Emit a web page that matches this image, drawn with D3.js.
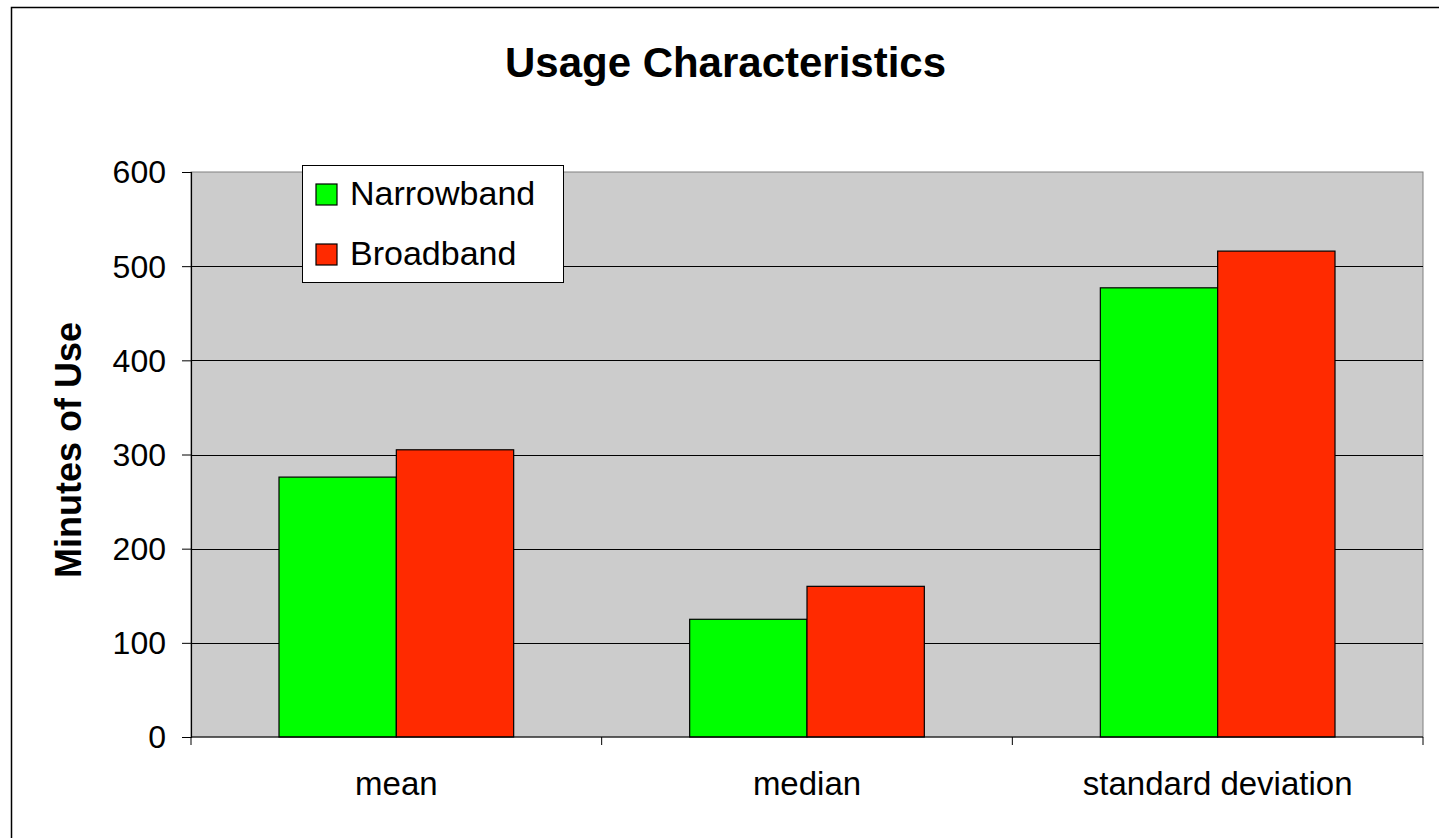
<!DOCTYPE html>
<html>
<head>
<meta charset="utf-8">
<script src="https://cdn.jsdelivr.net/npm/d3@7"></script>
<style>
  body { margin: 0; background: #fff; }
  svg { display: block; font-family: "Liberation Sans", Arial, sans-serif; }
</style>
</head>
<body>
<div id="chart"></div>
<script>
// chart data
var categories = ["mean", "median", "standard deviation"];
var seriesNames = ["Narrowband", "Broadband"];
var narrowband = [276, 125, 477];
var broadband = [305, 160, 516];
var yTicks = [0, 100, 200, 300, 400, 500, 600];
var colors = ["#00ff00", "#ff2a00"];

var W = 1439, H = 838;
var margin = { top: 172, left: 191, right: 16, bottom: 100 };
var pw = 1423 - margin.left, ph = 737 - margin.top;

var svg = d3.select("#chart").append("svg")
  .attr("width", W).attr("height", H);

// outer frame
svg.append("rect")
  .attr("x", 11.5).attr("y", 7.5)
  .attr("width", W + 10).attr("height", H + 10)
  .attr("fill", "#fff").attr("stroke", "#000").attr("stroke-width", 1.5);

svg.append("text")
  .attr("x", 725.5).attr("y", 77)
  .attr("text-anchor", "middle")
  .attr("textLength", 441).attr("lengthAdjust", "spacingAndGlyphs")
  .style("font-size", "43px").style("font-weight", "bold")
  .text("Usage Characteristics");

var g = svg.append("g")
  .attr("transform", "translate(" + margin.left + "," + margin.top + ")");

var x0 = d3.scaleBand().domain(categories).range([0, pw]).paddingInner(0).paddingOuter(0);
var y = d3.scaleLinear().domain([0, 600]).range([ph, 0]);

// Excel gap width 150% -> bar = band / 3.5
var barW = x0.bandwidth() / 3.5;

g.append("rect")
  .attr("width", pw).attr("height", ph)
  .attr("fill", "#cccccc").attr("stroke", "#808080").attr("stroke-width", 1);

g.selectAll(".grid")
  .data(yTicks.filter(function (d) { return d > 0 && d < 600; }))
  .enter().append("line")
  .attr("class", "grid")
  .attr("x1", 0).attr("x2", pw)
  .attr("y1", function (d) { return Math.round(y(d)) + 0.5; })
  .attr("y2", function (d) { return Math.round(y(d)) + 0.5; })
  .attr("stroke", "#000").attr("stroke-width", 1);

var groups = g.selectAll(".cat")
  .data(categories)
  .enter().append("g")
  .attr("class", "cat")
  .attr("transform", function (d) { return "translate(" + (x0(d) + barW * 0.75) + ",0)"; });

groups.selectAll("rect")
  .data(function (d, i) { return [narrowband[i], broadband[i]]; })
  .enter().append("rect")
  .attr("x", function (d, j) { return j * barW; })
  .attr("y", function (d) { return y(d); })
  .attr("width", barW)
  .attr("height", function (d) { return ph - y(d); })
  .attr("fill", function (d, j) { return colors[j]; })
  .attr("stroke", "#000").attr("stroke-width", 1.2);

// y axis
var yAxis = d3.axisLeft(y).tickValues(yTicks).tickSize(9).tickPadding(16);
var ya = g.append("g").call(yAxis);
ya.select(".domain").attr("stroke", "#000").attr("stroke-width", 1.2);
ya.selectAll(".tick line").attr("stroke", "#000");
ya.selectAll("text").style("font-size", "32px").attr("fill", "#000")
  .attr("font-family", null).attr("dy", "0.34em");

// x axis: ticks at category boundaries
var xa = g.append("g").attr("transform", "translate(0," + ph + ")");
xa.append("line").attr("x1", 0).attr("x2", pw).attr("stroke", "#000").attr("stroke-width", 1.2);
xa.selectAll(".xt")
  .data(categories.concat(["end"]))
  .enter().append("line")
  .attr("class", "xt")
  .attr("x1", function (d, i) { return i * x0.step(); })
  .attr("x2", function (d, i) { return i * x0.step(); })
  .attr("y1", 0).attr("y2", 8)
  .attr("stroke", "#000");
xa.selectAll(".xl")
  .data(categories)
  .enter().append("text")
  .attr("class", "xl")
  .attr("x", function (d) { return x0(d) + x0.bandwidth() / 2; })
  .attr("y", 58)
  .attr("text-anchor", "middle")
  .style("font-size", "33px")
  .text(function (d) { return d; });

svg.append("text")
  .attr("transform", "translate(81," + 450 + ") rotate(-90)")
  .attr("text-anchor", "middle")
  .style("font-size", "36px").style("font-weight", "bold")
  .text("Minutes of Use");

// legend
var leg = svg.append("g").attr("transform", "translate(302,165)");
leg.append("rect")
  .attr("x", 0.5).attr("y", 0.5).attr("width", 261).attr("height", 117)
  .attr("fill", "#fff").attr("stroke", "#000").attr("stroke-width", 1);
var items = leg.selectAll(".li")
  .data(seriesNames)
  .enter().append("g")
  .attr("class", "li")
  .attr("transform", function (d, i) { return "translate(14," + (19 + i * 60) + ")"; });
items.append("rect")
  .attr("width", 21).attr("height", 21)
  .attr("fill", function (d, i) { return colors[i]; })
  .attr("stroke", "#000").attr("stroke-width", 1.2);
items.append("text")
  .attr("x", 34).attr("y", 21)
  .style("font-size", "34px")
  .text(function (d) { return d; });
</script>
</body>
</html>
